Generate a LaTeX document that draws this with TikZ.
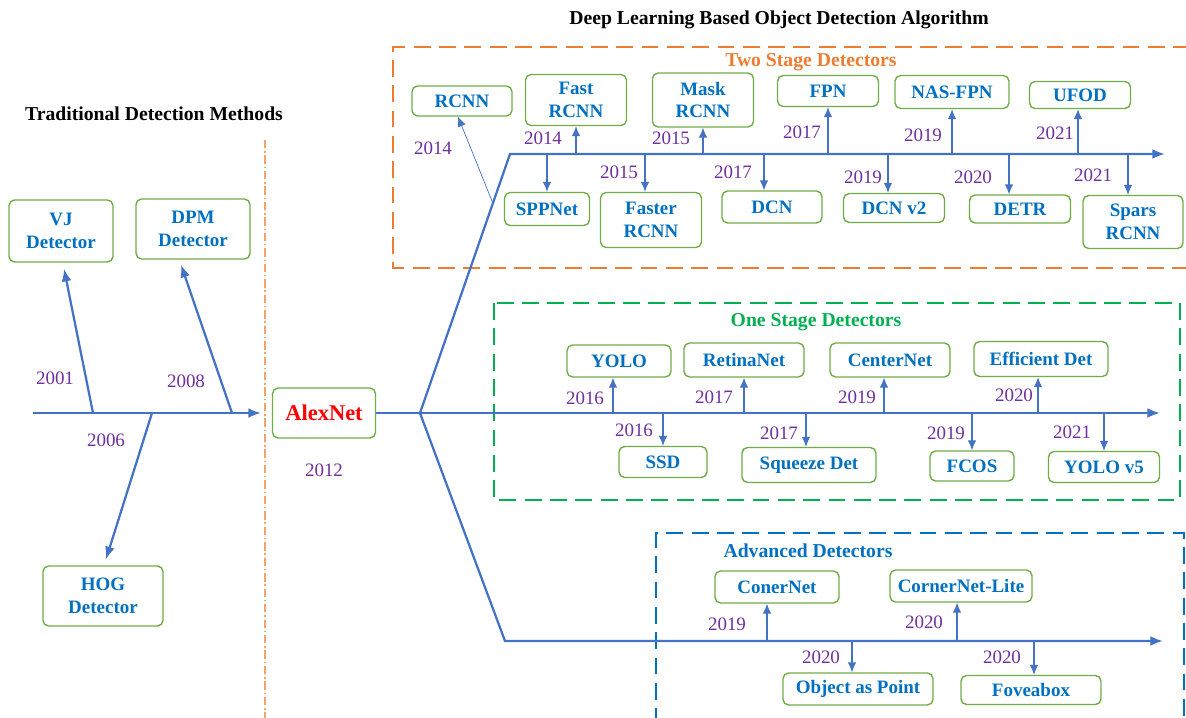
\documentclass[tikz,border=0pt]{standalone}
\usepackage{fontspec}
\setmainfont{Liberation Serif}
\usetikzlibrary{arrows.meta,calc}
\definecolor{boxblue}{HTML}{0070C0}
\definecolor{boxgreen}{HTML}{70AD47}
\definecolor{yearpurple}{HTML}{7030A0}
\definecolor{lineblue}{HTML}{4472C4}
\definecolor{dashorange}{HTML}{ED7D31}
\definecolor{lightorange}{HTML}{F4A36B}
\definecolor{dashgreen}{HTML}{00B050}
\tikzset{>={Latex[length=7pt,width=6pt]}}

\begin{document}
\begin{tikzpicture}[x=0.025cm,y=-0.025cm,
  detbox/.style={draw=boxgreen,line width=1pt,rounded corners=4pt,fill=white,
    text=boxblue,font=\fontsize{13.5}{16}\selectfont\bfseries,align=center,inner sep=1pt},
  year/.style={text=yearpurple,font=\fontsize{13.5}{16}\selectfont},
  ttl/.style={font=\fontsize{14}{16}\selectfont\bfseries},
  axis/.style={draw=lineblue,line width=1.6pt,-{Latex[length=9pt,width=7pt]}},
  tick/.style={->,draw=lineblue,line width=0.8pt},
  frame/.style={line width=2pt,dash pattern=on 12pt off 6pt}]
\useasboundingbox (0,0) rectangle (1186,718);

% titles and frames
\node[ttl] (dltitle) at (779,20) {Deep Learning Based Object Detection Algorithm};
\node[ttl] (tradtitle) at (154,114) {Traditional Detection Methods};
\draw[frame,dashorange] (1190,47) -- (393,47) -- (393,268) -- (1190,268);
\draw[frame,dashgreen] (494,303) rectangle (1180,500);
\draw[frame,boxblue] (656,725) -- (656,533) -- (1184,533) -- (1184,725);
\draw[lightorange,line width=0.8pt,dash pattern=on 6pt off 2pt on 1pt off 2pt] (265,140) -- (265,718);
\node[ttl,text=dashorange] (twostage) at (811,62) {Two Stage Detectors};
\node[ttl,text=dashgreen] (onestage) at (816,322) {One Stage Detectors};
\node[ttl,text=boxblue] (advanced) at (808,551) {Advanced Detectors};

% traditional methods
\coordinate (t0) at (33,413);
\coordinate (t01) at (93,413);
\coordinate (t06) at (152,413);
\coordinate (t08) at (232,413);
\node[detbox,minimum width=2.6cm,minimum height=1.55cm] (vj) at (61,231) {VJ\\Detector};
\node[detbox,minimum width=2.85cm,minimum height=1.5cm] (dpm) at (193,229) {DPM\\Detector};
\node[detbox,minimum width=3cm,minimum height=1.5cm] (hog) at (103,596) {HOG\\Detector};
\node[detbox,text=red,font=\fontsize{16}{18}\selectfont\bfseries,minimum width=2.575cm,minimum height=1.25cm] (alex) at (324,413) {AlexNet};
\draw[axis] (t0) -- ([xshift=-0.27cm]alex.west);
\draw[axis] (t01) -- ([xshift=0.075cm,yshift=-0.15cm]vj.south);
\draw[axis] (t08) -- ([xshift=-0.3cm,yshift=-0.125cm]dpm.south);
\draw[axis] (t06) -- ([xshift=0.075cm,yshift=0.15cm]hog.north);
\node[year] (y2001) at (55,378) {2001};
\node[year] (y2008) at (186,381) {2008};
\node[year] (y2006) at (106,440) {2006};
\node[year] (y2012) at (324,470) {2012};

% branches
\coordinate (br) at (420,413);
\coordinate (tsa) at (510,154);
\coordinate (tse) at (1165,154);
\coordinate (ose) at (1160,413);
\coordinate (ada) at (505,641);
\coordinate (ade) at (1163,641);
\draw[axis,-] (alex.east) -- (br);
\draw[axis] (br) -- (tsa) -- (tse);
\draw[axis] (br) -- (ose);
\draw[axis] (br) -- (ada) -- (ade);

% two stage detectors
\node[detbox,minimum width=2.5cm,minimum height=0.75cm] (rcnn) at (462,101) {RCNN};
\node[detbox,minimum width=2.525cm,minimum height=1.275cm] (fast) at (576,100) {Fast\\RCNN};
\node[detbox,minimum width=2.525cm,minimum height=1.35cm] (mask) at (703,100) {Mask\\RCNN};
\node[detbox,minimum width=2.525cm,minimum height=0.775cm] (fpn) at (828,91) {FPN};
\node[detbox,minimum width=2.85cm,minimum height=0.825cm] (nasfpn) at (952,92) {NAS-FPN};
\node[detbox,minimum width=2.525cm,minimum height=0.675cm] (ufod) at (1080,95) {UFOD};
\node[detbox,minimum width=2.125cm,minimum height=0.825cm] (spp) at (547,209) {SPPNet};
\node[detbox,minimum width=2.525cm,minimum height=1.375cm] (faster) at (651,220) {Faster\\RCNN};
\node[detbox,minimum width=2.5cm,minimum height=0.8cm] (dcn) at (772,207) {DCN};
\node[detbox,minimum width=2.525cm,minimum height=0.725cm] (dcnv) at (894,208) {DCN v2};
\node[detbox,minimum width=2.525cm,minimum height=0.7cm] (detr) at (1020,209) {DETR};
\node[detbox,minimum width=2.5cm,minimum height=1.325cm] (spars) at (1133,222) {Spars\\RCNN};
\coordinate (rc) at ($(br)!0.81!(tsa)$);
\draw[tick,line width=0.5pt] (rc) -- ([xshift=-0.1cm]rcnn.south);
\draw[tick] (fast.south |- tsa) -- (fast.south);
\draw[tick] (mask.south |- tsa) -- (mask.south);
\draw[tick] (fpn.south |- tsa) -- (fpn.south);
\draw[tick] (nasfpn.south |- tsa) -- (nasfpn.south);
\draw[tick] ([xshift=-0.05cm]ufod.south |- tsa) -- ([xshift=-0.05cm]ufod.south);
\draw[tick] (spp.north |- tsa) -- (spp.north);
\draw[tick] ([xshift=-0.15cm]faster.north |- tsa) -- ([xshift=-0.15cm]faster.north);
\draw[tick] ([xshift=-0.2cm]dcn.north |- tsa) -- ([xshift=-0.2cm]dcn.north);
\draw[tick] ([xshift=-0.15cm]dcnv.north |- tsa) -- ([xshift=-0.15cm]dcnv.north);
\draw[tick] ([xshift=-0.275cm]detr.north |- tsa) -- ([xshift=-0.275cm]detr.north);
\draw[tick] ([xshift=-0.125cm]spars.north |- tsa) -- ([xshift=-0.125cm]spars.north);
\node[year] at (433,148) {2014};
\node[year] at (543,138) {2014};
\node[year] at (671,138) {2015};
\node[year] at (619,172) {2015};
\node[year] at (733,172) {2017};
\node[year] at (802,132) {2017};
\node[year] at (863,177) {2019};
\node[year] at (923,135) {2019};
\node[year] at (973,177) {2020};
\node[year] at (1055,133) {2021};
\node[year] at (1093,175) {2021};

% one stage detectors
\node[detbox,minimum width=2.6cm,minimum height=0.8cm] (yolo) at (619,361) {YOLO};
\node[detbox,minimum width=3cm,minimum height=0.85cm] (retina) at (744,360) {RetinaNet};
\node[detbox,minimum width=3cm,minimum height=0.85cm] (center) at (890,360) {CenterNet};
\node[detbox,minimum width=3.35cm,minimum height=0.875cm] (effdet) at (1041,359) {Efficient Det};
\node[detbox,minimum width=2.2cm,minimum height=0.775cm] (ssd) at (663,462) {SSD};
\node[detbox,minimum width=3.35cm,minimum height=0.875cm] (squeeze) at (809,465) {Squeeze Det};
\node[detbox,minimum width=2.1cm,minimum height=0.75cm] (fcos) at (972,466) {FCOS};
\node[detbox,minimum width=2.775cm,minimum height=0.775cm] (yolov) at (1104,467) {YOLO v5};
\draw[tick] ([xshift=-0.15cm]yolo.south |- br) -- ([xshift=-0.15cm]yolo.south);
\draw[tick] (retina.south |- br) -- (retina.south);
\draw[tick] ([xshift=-0.15cm]center.south |- br) -- ([xshift=-0.15cm]center.south);
\draw[tick] ([xshift=-0.075cm]effdet.south |- br) -- ([xshift=-0.075cm]effdet.south);
\draw[tick] (ssd.north |- br) -- (ssd.north);
\draw[tick] ([xshift=-0.075cm]squeeze.north |- br) -- ([xshift=-0.075cm]squeeze.north);
\draw[tick] (fcos.north |- br) -- (fcos.north);
\draw[tick] (yolov.north |- br) -- (yolov.north);
\node[year] at (585,398) {2016};
\node[year] at (714,397) {2017};
\node[year] at (857,397) {2019};
\node[year] at (1014,395) {2020};
\node[year] at (634,430) {2016};
\node[year] at (779,433) {2017};
\node[year] at (946,433) {2019};
\node[year] at (1072,432) {2021};

% advanced detectors
\node[detbox,minimum width=3.1cm,minimum height=0.8cm] (coner) at (777,587) {ConerNet};
\node[detbox,minimum width=3.55cm,minimum height=0.8cm] (lite) at (961,586) {CornerNet-Lite};
\node[detbox,minimum width=3.75cm,minimum height=0.8cm] (objpt) at (858,689) {Object as Point};
\node[detbox,minimum width=3.5cm,minimum height=0.725cm] (fovea) at (1031,690) {Foveabox};
\draw[tick] ([xshift=-0.25cm]coner.south |- ada) -- ([xshift=-0.25cm]coner.south);
\draw[tick] ([xshift=-0.1cm]lite.south |- ada) -- ([xshift=-0.1cm]lite.south);
\draw[tick] ([xshift=-0.15cm]objpt.north |- ada) -- ([xshift=-0.15cm]objpt.north);
\draw[tick] ([xshift=0.075cm]fovea.north |- ada) -- ([xshift=0.075cm]fovea.north);
\node[year] at (727,624) {2019};
\node[year] at (924,622) {2020};
\node[year] at (821,657) {2020};
\node[year] at (1002,657) {2020};
\end{tikzpicture}
\end{document}
